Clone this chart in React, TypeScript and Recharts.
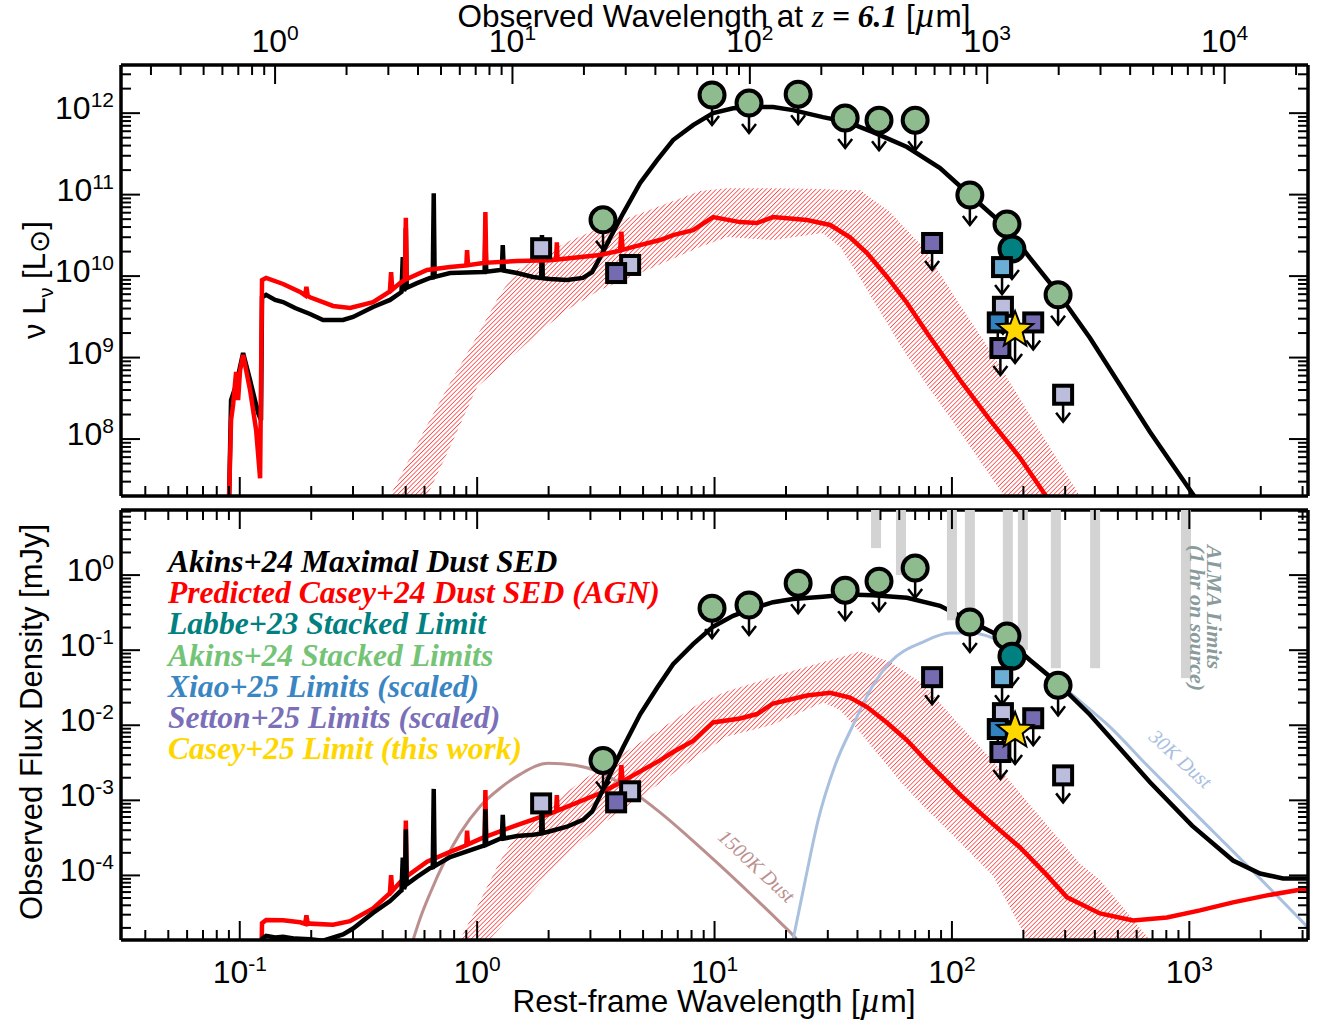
import React from "react";
import { ComposedChart, Line, Area, Scatter, XAxis, YAxis } from "recharts";

const SANS = "'Liberation Sans', Arial, sans-serif";
const SERIF = "'Liberation Serif', 'Times New Roman', serif";

const REDSHIFT = 6.1;
const REST_DOMAIN: [number, number] = [0.0316, 3162];
const OBS_DOMAIN: [number, number] = [0.0316 * (1 + REDSHIFT), 3162 * (1 + REDSHIFT)];
const LUM_DOMAIN: [number, number] = [2.0e7, 3.9e12];
const FLUX_DOMAIN: [number, number] = [1.38e-5, 7.36];

// ---- top panel: nu L_nu [Lsun] vs rest wavelength [um]
const akinsSedTop = [
  [0.0902, 2.0e7], [0.0919, 3.0e8], [0.0965, 4.6e8], [0.1033, 1.14e9], [0.1105, 5.3e8],
  [0.1194, 2.1e8], [0.1229, 1.7e8], [0.1241, 5.5e9], [0.1291, 5.9e9], [0.1409, 5.1e9],
  [0.1522, 4.8e9], [0.171, 4.06e9], [0.1977, 3.43e9], [0.2243, 2.89e9], [0.2723, 2.89e9],
  [0.3001, 3.15e9], [0.3642, 4.18e9], [0.4296, 5.1e9], [0.4733, 6.2e9], [0.48, 6.4e9],
  [0.486, 1.71e10], [0.492, 6.6e9], [0.497, 7.0e9], [0.5007, 3.9e10], [0.505, 7.2e9],
  [0.558, 8.2e9], [0.6333, 9.5e9], [0.65, 9.6e9], [0.6563, 1.04e11], [0.662, 9.8e9],
  [0.769, 1.09e10], [1.059, 1.12e10], [1.075, 1.12e10], [1.083, 3.38e10], [1.092, 1.13e10],
  [1.249, 1.19e10], [1.27, 1.19e10], [1.282, 2.4e10], [1.295, 1.17e10], [1.472, 1.09e10],
  [1.72, 9.75e9], [1.86, 9.5e9], [1.875, 3.19e10], [1.89, 9.4e9], [2.03, 9.2e9],
  [2.39, 8.95e9], [2.79, 9.5e9], [3.05, 1.12e10], [3.29, 1.67e10], [3.63, 2.93e10],
  [4.12, 5.9e10], [4.86, 1.39e11], [5.73, 2.65e11], [6.69, 4.68e11], [8.12, 7.14e11],
  [9.86, 1.0e12], [11.97, 1.15e12], [14.53, 1.19e12], [17.64, 1.19e12], [21.4, 1.09e12],
  [28.6, 8.95e11], [36.1, 7.8e11], [46.5, 5.86e11], [64.7, 3.84e11], [89.1, 2.12e11],
  [119, 9.9e10], [170.6, 3.89e10], [213, 1.67e10], [280, 6.2e9], [381.6, 1.74e9],
  [510.5, 4.6e8], [683, 1.22e8], [1027, 2.18e7], [1283, 8.6e6],
];
const caseySedTop = [
  [0.0902, 2.0e7], [0.0919, 1.71e8], [0.0937, 2.6e8], [0.0965, 6.65e8], [0.0984, 3.0e8],
  [0.1003, 7.0e8], [0.1033, 1.08e9], [0.1105, 4.0e8], [0.1172, 1.29e8], [0.1218, 3.3e7],
  [0.1241, 8.95e9], [0.1291, 9.5e9], [0.1522, 8.0e9], [0.1795, 6.4e9], [0.1885, 5.8e9],
  [0.1909, 7.4e9], [0.1935, 5.7e9], [0.1977, 5.5e9], [0.2472, 4.3e9], [0.2915, 4.06e9],
  [0.3642, 4.8e9], [0.429, 6.5e9], [0.434, 1.12e10], [0.439, 6.8e9], [0.4733, 8.2e9],
  [0.496, 9.0e9], [0.5007, 5.2e10], [0.505, 9.2e9], [0.615, 1.19e10], [0.769, 1.29e10],
  [0.9, 1.35e10], [0.907, 2.09e10], [0.915, 1.36e10], [1.059, 1.45e10], [1.075, 1.45e10],
  [1.083, 6.1e10], [1.092, 1.46e10], [1.472, 1.53e10], [2.03, 1.57e10], [2.15, 1.6e10],
  [2.166, 2.6e10], [2.18, 1.6e10], [3.29, 1.82e10], [4.0, 2.05e10], [4.05, 3.5e10],
  [4.1, 2.1e10], [4.54, 2.28e10], [5.89, 2.77e10], [6.69, 3.19e10], [8.12, 3.67e10],
  [9.86, 5.3e10], [12.81, 4.6e10], [15.1, 4.48e10], [17.64, 5.3e10], [24.5, 4.88e10],
  [30.7, 4.24e10], [37.2, 3.0e10], [43.9, 1.92e10], [53.3, 9.75e9], [64.7, 4.68e9],
  [78.6, 2.0e9], [108.2, 5.3e8], [144.7, 1.71e8], [193.6, 5.9e7], [249, 2.0e7], [299, 9.6e6],
];
// wavelength, lower, upper of the Casey+24 range
const caseyRangeTop = [
  [0.39, 1e5, 1.0e7], [0.4296, 1e6, 2.0e7], [0.522, 3.2e6, 6.0e7], [0.615, 2.0e7, 1.49e8],
  [0.769, 8.0e7, 4.9e8], [0.999, 4.36e8, 1.84e9], [1.249, 7.66e8, 6.0e9], [1.472, 1.17e9, 1.19e10],
  [1.841, 2.09e9, 1.71e10], [2.39, 3.84e9, 2.62e10], [3.29, 6.75e9, 3.89e10], [4.86, 1.09e10, 5.86e10],
  [8.69, 2.28e10, 1.11e11], [11.29, 3.02e10, 1.2e11], [17.64, 2.77e10, 1.2e11], [28.6, 3.38e10, 1.17e11],
  [33.8, 2.28e10, 1.14e11], [41.0, 9.5e9, 1.14e11], [46.5, 5.1e9, 8.7e10], [54.9, 2.31e9, 6.1e10],
  [60.4, 1.43e9, 4.53e10], [75.5, 5.4e8, 2.28e10], [108.2, 1.22e8, 4.42e9], [149, 3.15e7, 1.08e9],
  [219.6, 6.2e6, 1.71e8], [346.4, 2e6, 2.0e7], [420.5, 1e6, 1e7],
];
const akinsLimitsTop = [
  [3.39, 4.9e10], [9.76, 1.67e12], [13.97, 1.33e12], [22.5, 1.71e12], [35.5, 8.7e11],
  [49.3, 8.2e11], [70.0, 8.2e11], [119, 9.9e10], [170.6, 4.35e10], [280, 5.9e9],
];
const labbeTop = [[179, 2.15e10]];
const xiaoLightTop = [[162.6, 1.29e10]];
const xiaoDarkTop = [[156, 2.7e9]];
const settonPurpleLimTop = [[82.5, 2.55e10], [220, 2.7e9], [160, 1.31e9]];
const settonLavLimTop = [[164, 4.2e9], [294, 3.5e8]];
const settonPurpleTop = [[3.85, 1.09e10]];
const settonLavTop = [[1.86, 2.2e10], [4.41, 1.37e10]];
const caseyLimitTop = [[184.5, 2.18e9]];

// ---- bottom panel: observed flux density [mJy] vs rest wavelength [um]
const akinsSedBot = [
  [0.1235, 1e-6], [0.1241, 1.43e-5], [0.1291, 1.57e-5], [0.1409, 1.49e-5], [0.1522, 1.52e-5],
  [0.171, 1.44e-5], [0.1977, 1.41e-5], [0.2243, 1.35e-5], [0.2723, 1.64e-5], [0.3001, 1.96e-5],
  [0.3642, 3.17e-5], [0.4296, 4.55e-5], [0.4733, 6.1e-5], [0.48, 6.3e-5], [0.486, 1.73e-4],
  [0.492, 6.6e-5], [0.497, 7.2e-5], [0.5007, 4.1e-4], [0.505, 7.6e-5], [0.558, 9.55e-5],
  [0.6333, 1.25e-4], [0.65, 1.28e-4], [0.6563, 1.42e-3], [0.662, 1.33e-4], [0.769, 1.75e-4],
  [1.059, 2.47e-4], [1.075, 2.5e-4], [1.083, 7.6e-4], [1.092, 2.55e-4], [1.249, 3.09e-4],
  [1.27, 3.1e-4], [1.282, 6.4e-4], [1.295, 3.1e-4], [1.472, 3.34e-4], [1.72, 3.48e-4],
  [1.86, 3.6e-4], [1.875, 1.24e-3], [1.89, 3.65e-4], [2.03, 3.88e-4], [2.39, 4.45e-4],
  [2.79, 5.5e-4], [3.05, 7.1e-4], [3.29, 1.14e-3], [3.63, 2.21e-3], [4.12, 5.1e-3],
  [4.86, 0.014], [5.73, 0.0316], [6.69, 0.065], [8.12, 0.1205], [9.86, 0.2056],
  [11.97, 0.287], [14.53, 0.359], [17.64, 0.436], [21.4, 0.48], [28.6, 0.515],
  [36.1, 0.55], [46.5, 0.54], [64.7, 0.5], [89.1, 0.39], [119, 0.245],
  [170.6, 0.138], [213, 0.074], [280, 0.036], [381.6, 0.0138], [510.5, 4.9e-3],
  [683, 1.74e-3], [1027, 4.6e-4], [1528, 1.58e-4], [1986, 1.06e-4], [2483, 9.1e-5],
  [3133, 9.1e-5], [3700, 9.1e-5],
];
const caseySedBot = [
  [0.1218, 1e-6], [0.1241, 2.31e-5], [0.1291, 2.55e-5], [0.1522, 2.53e-5], [0.1795, 2.38e-5],
  [0.1885, 2.27e-5], [0.1909, 2.94e-5], [0.1935, 2.25e-5], [0.1977, 2.28e-5], [0.2472, 2.21e-5],
  [0.2915, 2.46e-5], [0.3642, 3.64e-5], [0.429, 5.8e-5], [0.434, 1.01e-4], [0.439, 6.2e-5],
  [0.4733, 8.1e-5], [0.496, 9.3e-5], [0.5007, 5.4e-4], [0.505, 9.7e-5], [0.615, 1.52e-4],
  [0.769, 2.06e-4], [0.9, 2.52e-4], [0.907, 3.94e-4], [0.915, 2.59e-4], [1.059, 3.19e-4],
  [1.075, 3.24e-4], [1.083, 1.37e-3], [1.092, 3.3e-4], [1.472, 4.69e-4], [2.03, 6.64e-4],
  [2.15, 7.15e-4], [2.166, 1.17e-3], [2.18, 7.3e-4], [3.29, 1.24e-3], [4.0, 1.71e-3],
  [4.05, 2.95e-3], [4.1, 1.79e-3], [4.54, 2.15e-3], [5.89, 3.4e-3], [6.69, 4.4e-3],
  [8.12, 6.2e-3], [9.86, 0.0109], [12.81, 0.0123], [15.1, 0.0141], [17.64, 0.0195],
  [24.5, 0.0249], [30.7, 0.027], [37.2, 0.0234], [43.9, 0.0175], [53.3, 0.0108],
  [64.7, 6.3e-3], [78.6, 3.27e-3], [108.2, 1.19e-3], [144.7, 5.2e-4], [193.6, 2.36e-4],
  [249, 1.04e-4], [305.5, 5.1e-5], [420.5, 3.12e-5], [579.4, 2.51e-5], [805, 2.75e-5],
  [1109, 3.42e-5], [1528, 4.37e-5], [2125, 5.42e-5], [3133, 6.7e-5], [3700, 7.2e-5],
];
const caseyRangeBot = [
  [0.39, 1e-8, 8e-8], [0.4296, 1e-8, 1.8e-7], [0.522, 1e-8, 6.6e-7], [0.615, 1e-8, 1.9e-6],
  [0.769, 1.3e-6, 7.8e-6], [0.999, 9.1e-6, 3.83e-5], [1.249, 2.0e-5, 1.56e-4], [1.472, 3.59e-5, 3.64e-4],
  [1.841, 8.0e-5, 6.56e-4], [2.39, 1.91e-4, 1.3e-3], [3.29, 4.62e-4, 2.67e-3], [4.86, 1.1e-3, 5.9e-3],
  [8.69, 4.1e-3, 0.02], [11.29, 7.1e-3, 0.0283], [17.64, 0.0102, 0.0442], [28.6, 0.0201, 0.0697],
  [33.8, 0.016, 0.08], [41.0, 8.1e-3, 0.097], [46.5, 4.9e-3, 0.0843], [54.9, 2.63e-3, 0.0697],
  [60.4, 1.79e-3, 0.0569], [75.5, 8.5e-4, 0.0357], [108.2, 2.75e-4, 9.9e-3], [149, 9.8e-5, 3.33e-3],
  [219.6, 1e-5, 7.8e-4], [346.4, 1e-6, 1.44e-4], [420.5, 1e-6, 8.7e-5], [683, 1e-6, 1.38e-5],
  [829, 1e-6, 6e-6],
];
const hotDust1500K = [
  [0.537, 1.38e-5], [0.575, 2.67e-5], [0.633, 5.75e-5], [0.732, 1.58e-4], [0.847, 3.63e-4],
  [1.028, 8.3e-4], [1.249, 1.45e-3], [1.516, 2.22e-3], [1.99, 3.12e-3], [2.585, 2.93e-3],
  [3.29, 2.37e-3], [4.36, 1.4e-3], [5.89, 6.9e-4], [7.89, 3.12e-4], [10.55, 1.36e-4],
  [14.11, 5.75e-5], [18.88, 2.37e-5], [22.3, 1.38e-5], [25.3, 8e-6],
];
const coldDust30K = [
  [21.4, 1.38e-5], [24.1, 8.6e-5], [27.3, 5.4e-4], [32.2, 2.93e-3], [38.3, 0.01],
  [46.5, 0.0342], [54.9, 0.0692], [75.5, 0.128], [98.2, 0.169], [122.7, 0.169],
  [149, 0.145], [193.6, 0.094], [266.6, 0.0424], [346.4, 0.0209], [450, 0.01033],
  [683, 2.67e-3], [1109, 5.75e-4], [1802, 1.24e-4], [3013, 2.37e-5], [3553, 1.38e-5],
];
const almaLimits = [
  [47.9, 2.29], [61.0, 1.0], [100, 0.25], [119, 0.32], [172, 0.136],
  [199, 0.1], [274, 0.0575], [401, 0.0575], [968, 0.0424],
];
const akinsLimitsBot = [
  [3.39, 3.4e-3], [9.76, 0.363], [13.97, 0.4], [22.5, 0.78], [35.5, 0.63],
  [49.3, 0.83], [70.0, 1.24], [119, 0.237], [170.6, 0.154], [280, 0.034],
];
const labbeBot = [[179, 0.083]];
const xiaoLightBot = [[162.6, 0.0437]];
const xiaoDarkBot = [[156, 8.9e-3]];
const settonPurpleLimBot = [[82.5, 0.0437], [220, 0.0124], [160, 4.4e-3]];
const settonLavLimBot = [[164, 0.0145], [294, 2.15e-3]];
const settonPurpleBot = [[3.85, 9.4e-4]];
const settonLavBot = [[1.86, 9.1e-4], [4.41, 1.32e-3]];
const caseyLimitBot = [[184.5, 8.4e-3]];

const legendItems = [
  { text: "Akins+24 Maximal Dust SED", color: "#000000" },
  { text: "Predicted Casey+24 Dust SED (AGN)", color: "#ff0000" },
  { text: "Labbe+23 Stacked Limit", color: "#008080" },
  { text: "Akins+24 Stacked Limits", color: "#74c476" },
  { text: "Xiao+25 Limits (scaled)", color: "#3a86c2" },
  { text: "Setton+25 Limits (scaled)", color: "#7a6fb8" },
  { text: "Casey+25 Limit (this work)", color: "#ffd700" },
];

const pts = (a: number[][]) => a.map(([x, y]) => ({ x, y }));
const lims = (a: number[][]) => a.map(([x, y]) => ({ x, y, limit: true }));
const band = (a: number[][]) => a.map(([x, lo, hi]) => ({ x, band: [lo, hi] }));

function logTicks([min, max]: [number, number]) {
  const out: number[] = [];
  for (let e = Math.floor(Math.log10(min)); e <= Math.ceil(Math.log10(max)); e++)
    for (let m = 1; m <= 9; m++) {
      const v = m * Math.pow(10, e);
      if (v >= min && v <= max) out.push(v);
    }
  return out;
}
const isDecade = (v: number) => {
  const l = Math.log10(v);
  return Math.abs(l - Math.round(l)) < 1e-6;
};

type Side = "top" | "bottom" | "left" | "right";
function makeTick(side: Side, labelled: boolean) {
  return (props: any) => {
    const { x, y, payload } = props;
    const v = payload.value;
    const major = isDecade(v);
    const len = major ? 19 : 10;
    let x2 = x, y2 = y;
    if (side === "bottom") y2 = y - len;
    if (side === "top") y2 = y + len;
    if (side === "left") x2 = x + len;
    if (side === "right") x2 = x - len;
    let label = null;
    if (labelled && major) {
      let lx = x, ly = y, anchor = "middle";
      if (side === "bottom") ly = y + 43;
      if (side === "top") ly = y - 13;
      if (side === "left") { lx = x - 7; ly = y + 6; anchor = "end"; }
      label = (
        <text x={lx} y={ly} textAnchor={anchor} fontFamily={SANS} fontSize={32} fill="#000">
          10<tspan dy={-12} fontSize={21}>{Math.round(Math.log10(v))}</tspan>
        </text>
      );
    }
    return (
      <g>
        <line x1={x} y1={y} x2={x2} y2={y2} stroke="#000" strokeWidth={2} />
        {label}
      </g>
    );
  };
}

const AXIS_LINE = { stroke: "#000", strokeWidth: 3.5 };
const axisCommon = {
  type: "number" as const,
  scale: "log" as const,
  allowDataOverflow: true,
  interval: 0,
  tickSize: 0,
  tickMargin: 0,
  tickLine: false,
  axisLine: AXIS_LINE,
};

function Arrow({ x, y, len }: { x: number; y: number; len: number }) {
  return (
    <g stroke="#000" strokeWidth={2.5} fill="none">
      <line x1={x} y1={y} x2={x} y2={y + len} />
      <polyline points={`${x - 7},${y + len - 9} ${x},${y + len} ${x + 7},${y + len - 9}`} />
    </g>
  );
}
const circleShape = (fill: string) => (p: any) => (
  <g>
    {p.payload?.limit && <Arrow x={p.cx} y={p.cy} len={30} />}
    <circle cx={p.cx} cy={p.cy} r={12.5} fill={fill} stroke="#000" strokeWidth={4} />
  </g>
);
const squareShape = (fill: string) => (p: any) => (
  <g>
    {p.payload?.limit && <Arrow x={p.cx} y={p.cy} len={27} />}
    <rect x={p.cx - 9} y={p.cy - 9} width={18} height={18} fill={fill} stroke="#000" strokeWidth={4} />
  </g>
);
const starShape = (fill: string) => (p: any) => {
  const s: string[] = [];
  for (let i = 0; i < 10; i++) {
    const r = i % 2 === 0 ? 19 : 8;
    const a = (Math.PI / 5) * i - Math.PI / 2;
    s.push(`${p.cx + r * Math.cos(a)},${p.cy + r * Math.sin(a)}`);
  }
  return (
    <g>
      {p.payload?.limit && <Arrow x={p.cx} y={p.cy} len={33} />}
      <polygon points={s.join(" ")} fill={fill} stroke="#000" strokeWidth={2} />
    </g>
  );
};
const BOT_PLOT_TOP = 10;
const almaShape = (p: any) => (
  <rect x={p.cx - 5} y={BOT_PLOT_TOP} width={10} height={Math.max(0, p.cy - BOT_PLOT_TOP)} fill="#d3d3d3" />
);

const restTicks = logTicks(REST_DOMAIN);
const obsTicks = logTicks(OBS_DOMAIN);
const lumTicks = logTicks(LUM_DOMAIN);
const fluxTicks = logTicks(FLUX_DOMAIN);

function markers(prefix: string, yId: string, sets: { data: any[]; shape: any }[]) {
  return sets.map((s, i) => (
    <Scatter key={prefix + i} xAxisId="rest" yAxisId={yId} data={s.data} dataKey="y" shape={s.shape} isAnimationActive={false} />
  ));
}

const GREEN = "#8fbc8f";
const TEAL = "#008080";
const XIAO_L = "#6baed6";
const XIAO_D = "#3182bd";
const SET_P = "#756bb1";
const SET_L = "#bcbddc";
const GOLD = "#ffd700";
const LW = 4.5;

function TopPanel() {
  return (
    <ComposedChart width={1325} height={505} margin={{ top: 0, right: 0, bottom: 0, left: 0 }}>
      <XAxis xAxisId="rest" dataKey="x" domain={REST_DOMAIN} ticks={restTicks} height={9} tick={makeTick("bottom", false)} {...axisCommon} />
      <XAxis xAxisId="obs" dataKey="x" orientation="top" domain={OBS_DOMAIN} ticks={obsTicks} height={65} tick={makeTick("top", true)} {...axisCommon} />
      <YAxis yAxisId="lum" domain={LUM_DOMAIN} ticks={lumTicks} width={121} tick={makeTick("left", true)} {...axisCommon} />
      <YAxis yAxisId="lumR" orientation="right" domain={LUM_DOMAIN} ticks={lumTicks} width={17} tick={makeTick("right", false)} {...axisCommon} />
      <Line xAxisId="rest" yAxisId="lum" data={pts(akinsSedTop)} dataKey="y" type="linear" stroke="#000" strokeWidth={LW} dot={false} activeDot={false} isAnimationActive={false} />
      <Area xAxisId="rest" yAxisId="lum" data={band(caseyRangeTop)} dataKey="band" type="linear" stroke="none" fill="url(#hatch)" fillOpacity={1} isAnimationActive={false} />
      <Line xAxisId="rest" yAxisId="lum" data={pts(caseySedTop)} dataKey="y" type="linear" stroke="#ff0000" strokeWidth={LW} dot={false} activeDot={false} isAnimationActive={false} />
      {markers("t", "lum", [
        { data: lims(akinsLimitsTop), shape: circleShape(GREEN) },
        { data: lims(labbeTop), shape: circleShape(TEAL) },
        { data: pts(settonLavTop), shape: squareShape(SET_L) },
        { data: pts(settonPurpleTop), shape: squareShape(SET_P) },
        { data: lims(xiaoLightTop), shape: squareShape(XIAO_L) },
        { data: lims(settonLavLimTop), shape: squareShape(SET_L) },
        { data: lims(xiaoDarkTop), shape: squareShape(XIAO_D) },
        { data: lims(settonPurpleLimTop), shape: squareShape(SET_P) },
        { data: lims(caseyLimitTop), shape: starShape(GOLD) },
      ])}
    </ComposedChart>
  );
}

function BottomPanel() {
  return (
    <ComposedChart width={1325} height={529} margin={{ top: 0, right: 0, bottom: 0, left: 0 }}>
      <XAxis xAxisId="rest" dataKey="x" domain={REST_DOMAIN} ticks={restTicks} height={89} tick={makeTick("bottom", true)} {...axisCommon} />
      <XAxis xAxisId="restTop" dataKey="x" orientation="top" domain={REST_DOMAIN} ticks={restTicks} height={10} tick={makeTick("top", false)} {...axisCommon} />
      <YAxis yAxisId="flux" domain={FLUX_DOMAIN} ticks={fluxTicks} width={121} tick={makeTick("left", true)} {...axisCommon} />
      <YAxis yAxisId="fluxR" orientation="right" domain={FLUX_DOMAIN} ticks={fluxTicks} width={17} tick={makeTick("right", false)} {...axisCommon} />
      <Scatter xAxisId="rest" yAxisId="flux" data={pts(almaLimits)} dataKey="y" shape={almaShape} isAnimationActive={false} />
      <Line xAxisId="rest" yAxisId="flux" data={pts(hotDust1500K)} dataKey="y" type="monotone" stroke="#bc8f8f" strokeWidth={3} dot={false} activeDot={false} isAnimationActive={false} />
      <Line xAxisId="rest" yAxisId="flux" data={pts(coldDust30K)} dataKey="y" type="monotone" stroke="#a9c0de" strokeWidth={3} dot={false} activeDot={false} isAnimationActive={false} />
      <Area xAxisId="rest" yAxisId="flux" data={band(caseyRangeBot)} dataKey="band" type="linear" stroke="none" fill="url(#hatch)" fillOpacity={1} isAnimationActive={false} />
      <Line xAxisId="rest" yAxisId="flux" data={pts(caseySedBot)} dataKey="y" type="linear" stroke="#ff0000" strokeWidth={LW} dot={false} activeDot={false} isAnimationActive={false} />
      <Line xAxisId="rest" yAxisId="flux" data={pts(akinsSedBot)} dataKey="y" type="linear" stroke="#000" strokeWidth={LW} dot={false} activeDot={false} isAnimationActive={false} />
      {markers("b", "flux", [
        { data: lims(akinsLimitsBot), shape: circleShape(GREEN) },
        { data: lims(labbeBot), shape: circleShape(TEAL) },
        { data: pts(settonLavBot), shape: squareShape(SET_L) },
        { data: pts(settonPurpleBot), shape: squareShape(SET_P) },
        { data: lims(xiaoLightBot), shape: squareShape(XIAO_L) },
        { data: lims(settonLavLimBot), shape: squareShape(SET_L) },
        { data: lims(xiaoDarkBot), shape: squareShape(XIAO_D) },
        { data: lims(settonPurpleLimBot), shape: squareShape(SET_P) },
        { data: lims(caseyLimitBot), shape: starShape(GOLD) },
      ])}
    </ComposedChart>
  );
}

function Annotations() {
  const serifBI = { fontFamily: SERIF, fontStyle: "italic", fontWeight: "bold" } as const;
  return (
    <svg width={1325} height={1029} style={{ position: "absolute", left: 0, top: 0, pointerEvents: "none" }}>
      <text x={714} y={27} textAnchor="middle" fontFamily={SANS} fontSize={31.5}>
        Observed Wavelength at <tspan fontFamily={SERIF} fontStyle="italic">z</tspan>
        <tspan fontFamily={SERIF} fontStyle="italic" fontWeight="bold"> = 6.1</tspan> [
        <tspan fontFamily={SERIF} fontStyle="italic" fontSize={36}>µ</tspan>m]
      </text>
      <text x={714} y={1012} textAnchor="middle" fontFamily={SANS} fontSize={31.5}>
        Rest-frame Wavelength [<tspan fontFamily={SERIF} fontStyle="italic" fontSize={36}>µ</tspan>m]
      </text>
      <text transform="translate(45,280) rotate(-90)" textAnchor="middle" fontFamily={SANS} fontSize={31}>
        ν L<tspan dy={8} fontSize={20}>ν</tspan>
        <tspan dy={-8}> [L</tspan>
        <tspan dy={4} fontFamily="'DejaVu Sans'" fontSize={28}>⊙</tspan>
        <tspan dy={-4}>]</tspan>
      </text>
      <text transform="translate(42,722) rotate(-90)" textAnchor="middle" fontFamily={SANS} fontSize={31}>
        Observed Flux Density [mJy]
      </text>
      {legendItems.map((it, i) => (
        <text key={it.text} x={168} y={572 + i * 31.2} fontSize={31.6} fill={it.color} {...serifBI}>
          {it.text}
        </text>
      ))}
      <text transform="translate(1207,545) rotate(90)" fontSize={22} fill="#8a9b9b" {...serifBI}>ALMA Limits</text>
      <text transform="translate(1190,545) rotate(90)" fontSize={22} fill="#8a9b9b" {...serifBI}>(1 hr on source)</text>
      <text transform="translate(752,871) rotate(43)" textAnchor="middle" fontSize={20} fill="#bc8f8f" fontFamily={SERIF} fontStyle="italic">1500K Dust</text>
      <text transform="translate(1176,764) rotate(42)" textAnchor="middle" fontSize={20} fill="#a9c0de" fontFamily={SERIF} fontStyle="italic">30K Dust</text>
    </svg>
  );
}

export default function App() {
  return (
    <div style={{ position: "absolute", left: 0, top: 0, width: 1325, height: 1029, background: "#fff" }}>
      <svg width={0} height={0} style={{ position: "absolute" }}>
        <defs>
          <pattern id="hatch" patternUnits="userSpaceOnUse" width={3.2} height={3.2} patternTransform="rotate(45)">
            <line x1={0} y1={0} x2={0} y2={3.2} stroke="#ff1a1a" strokeWidth={1.3} />
          </pattern>
        </defs>
      </svg>
      <div style={{ position: "absolute", left: 0, top: 0 }}>
        <TopPanel />
      </div>
      <div style={{ position: "absolute", left: 0, top: 500 }}>
        <BottomPanel />
      </div>
      <Annotations />
    </div>
  );
}
